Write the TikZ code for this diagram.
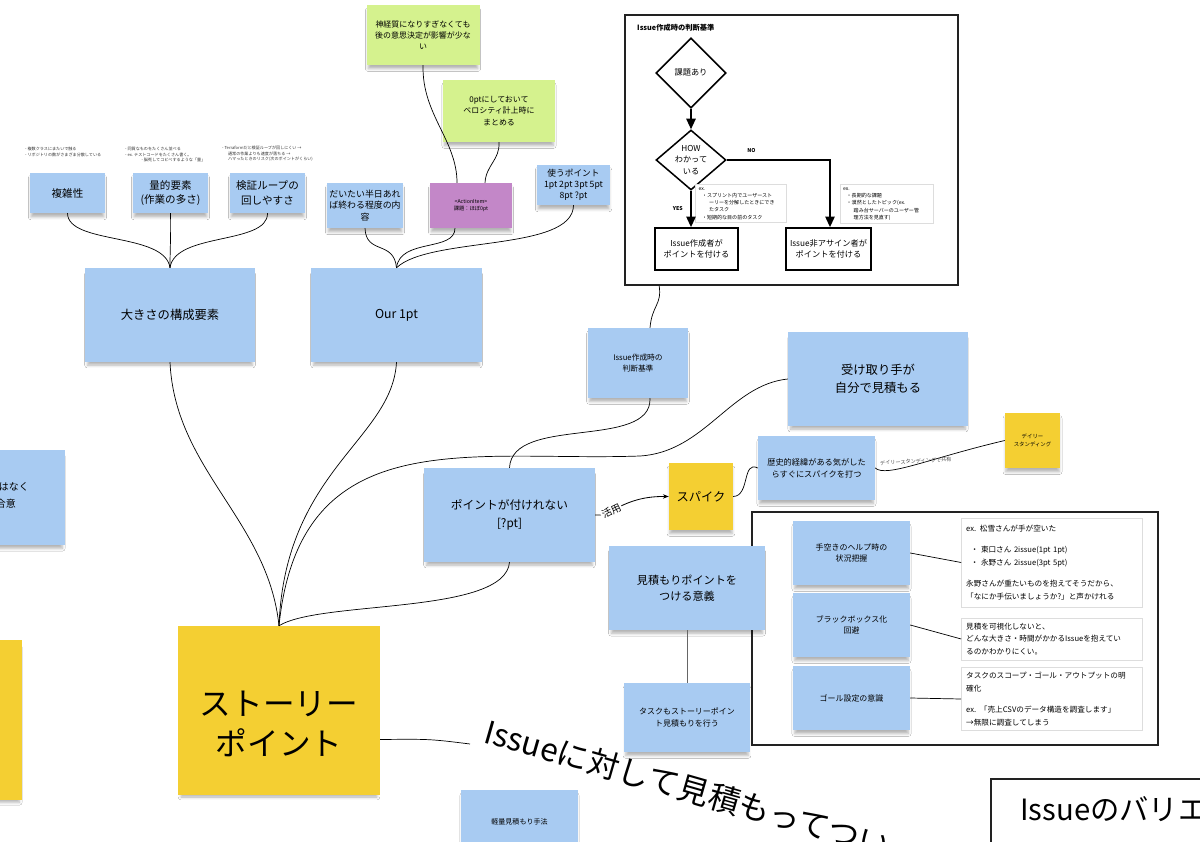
\documentclass[tikz,border=0pt]{standalone}
\usepackage{fontspec}
\setmainfont{Noto Sans CJK JP}
\usetikzlibrary{shapes.geometric,arrows.meta,positioning,calc,shadows.blur}
\definecolor{boardblue}{HTML}{A8CBF2}
\definecolor{boardyellow}{HTML}{F4CF32}
\definecolor{boardgreen}{HTML}{D5F28E}
\definecolor{boardpurple}{HTML}{C387C8}
\definecolor{boardline}{HTML}{222222}
\definecolor{boardgray}{HTML}{DDDDDD}
\newcommand\fsize[2]{\fontsize{#1}{#2}\selectfont}

\begin{document}
\begin{tikzpicture}[x=0.03cm, y=-0.03cm,
    sticky/.style={rectangle, fill=boardblue, align=center, inner sep=2pt, blur shadow={shadow xshift=0pt, shadow yshift=-4pt, shadow scale=0.97, shadow opacity=30, shadow blur radius=2.5pt}},
    memo/.style={font=\fsize{3.5}{4.6}, align=left, inner sep=0pt, text=black!80, anchor=north west},
    frame/.style={rectangle, draw=boardline, line width=1.4pt},
    decide/.style={diamond, draw=black, line width=1.3pt, aspect=1.15, inner sep=0pt, font=\fsize{7}{9.5}, align=center},
    pointbox/.style={rectangle, draw=black, line width=1.5pt, minimum width=2.49cm, minimum height=1.26cm, font=\fsize{7}{10}, align=center},
    exnote/.style={rectangle, draw=boardgray, fill=white, line width=0.4pt, align=left, font=\fsize{4.3}{6.2}, inner sep=2.5pt},
    memobox/.style={rectangle, draw=boardgray, fill=white, line width=0.5pt, align=left, text width=5.15cm, inner sep=4pt, font=\fsize{6.5}{11}},
    yesno/.style={font=\bfseries\fsize{4.5}{5}},
    tag/.style={font=\fsize{4.4}{5}, text=black!70, inner sep=1pt},
    link/.style={line width=0.6pt, draw=black},
    flow/.style={-{Triangle[length=9pt,width=8pt]}, line width=1.3pt},
    push/.style={-{Stealth[length=5pt]}, line width=0.7pt}
]
    \useasboundingbox (0,0) rectangle (1200,842);
    \clip (0,0) rectangle (1200,842);
    \fill [white] (0,0) rectangle (1200,842);

    % cut-off notes on the left edge
    \node (leftblue) [sticky, minimum width=4.95cm, minimum height=2.85cm, anchor=north east] at (65,450) {};
    \node (leftblueA) [font=\fsize{8.5}{11}, anchor=east] at (33,487) {はなく};
    \node (leftblueB) [font=\fsize{8.5}{11}, anchor=east] at (20,504) {合意};
    \node (leftyellow) [sticky, fill=boardyellow, minimum width=5cm, minimum height=4.8cm, anchor=north east] at (22,640) {};

    % size factors
    \node (cplxmemo) [memo] at (25,147) {- 複数クラスにまたいで触る\\- リポジトリの数がさまざま分散している};
    \node (qtymemo) [memo] at (125,147) {- 同質なものをたくさん並べる\\- ex. テストコードをたくさん書く。\\\hspace*{14pt}- 脳死してコピペするような「量」};
    \node (loopmemo) [memo] at (222,146) {- Terraformだと検証ループが回しにくい →\\\hspace*{5pt}通常の作業よりも速度が落ちる →\\\hspace*{5pt}ハマったときのリスク(次のポイントがくらい)};
    \node (cplx) [sticky, minimum width=2.25cm, minimum height=1.2cm, font=\fsize{9}{12}] at (67.5,193) {複雑性};
    \node (qty) [sticky, minimum width=2.25cm, minimum height=1.2cm, font=\fsize{9}{12}] at (170.5,193) {量的要素\\(作業の多さ)};
    \node (loop) [sticky, minimum width=2.25cm, minimum height=1.2cm, font=\fsize{9}{12}] at (267.5,193) {検証ループの\\回しやすさ};
    \node (size) [sticky, minimum width=5.1cm, minimum height=2.82cm, font=\fsize{10.5}{13}] at (170,315) {大きさの構成要素};

    % our 1pt
    \node (calm) [sticky, fill=boardgreen, minimum width=3.39cm, minimum height=1.8cm, font=\fsize{6.8}{9.5}] at (423,35) {神経質になりすぎなくても\\後の意思決定が影響が少な\\い};
    \node (zero) [sticky, fill=boardgreen, minimum width=3.36cm, minimum height=1.86cm, font=\fsize{6.8}{9.5}] at (499,111) {0ptにしておいて\\ベロシティ計上時に\\まとめる};
    \node (half) [sticky, minimum width=2.22cm, minimum height=1.35cm, font=\fsize{7.6}{10}] at (365,205.5) {だいたい半日あれ\\ば終わる程度の内\\容};
    \node (act) [sticky, fill=boardpurple, minimum width=2.46cm, minimum height=1.35cm, font=\fsize{4.5}{6.5}] at (471,205.5) {<ActionItem>\\課題：ほぼ0pt};
    \node (use) [sticky, minimum width=2.19cm, minimum height=1.2cm, font=\fsize{7.4}{9.5}] at (573.5,185) {使うポイント\\1pt 2pt 3pt 5pt\\8pt ?pt};
    \node (our) [sticky, minimum width=5.13cm, minimum height=2.82cm, font=\fsize{10.5}{13}] at (396.5,315) {Our 1pt};

    % judgement frame
    \node (judge) [frame, minimum width=9.99cm, minimum height=8.1cm] at (791.5,150) {};
    \node (judgetitle) [font=\bfseries\fsize{6.2}{8}, anchor=west, inner sep=0pt] at (637,28) {Issue作成時の判断基準};
    \node (has) [decide, minimum width=2.1cm, minimum height=2.1cm] at (691,73) {課題あり};
    \node (how) [decide, minimum width=2.1cm, minimum height=1.8cm] at (691,160) {HOW\\わかって\\いる};
    \node (exyes) [exnote, text width=2.55cm] at (741,203.5) {ex.\\\hspace*{3pt}・スプリント内でユーザースト\\\hspace*{9pt}ーリーを分解したときにでき\\\hspace*{9pt}たタスク\\\hspace*{3pt}・短期的な目の前のタスク};
    \node (exno) [exnote, text width=2.6cm] at (886.5,204) {ex.\\\hspace*{3pt}・長期的な課題\\\hspace*{3pt}・漠然としたトピック(ex.\\\hspace*{9pt}踏み台サーバーのユーザー管\\\hspace*{9pt}理方法を見直す)};
    \node (byauthor) [pointbox] at (696.5,249) {Issue作成者が\\ポイントを付ける};
    \node (byother) [pointbox] at (828.5,249) {Issue非アサイン者が\\ポイントを付ける};
    \draw [flow] (has) -- (how);
    \draw [flow] (how.south) -- node [yesno, left=3pt] {YES} (how.south |- byauthor.north);
    \draw [flow] (how.east) -| node [yesno, pos=0.12, above=2pt] {NO} ($(byother.north)+(1.5,0)$);

    % middle notes
    \node (judgenote) [sticky, minimum width=3cm, minimum height=2.1cm, font=\fsize{6.6}{9.5}] at (638,363) {Issue作成時の\\判断基準};
    \node (self) [sticky, minimum width=5.4cm, minimum height=2.82cm, font=\fsize{10.5}{15}] at (878,379) {受け取り手が\\自分で見積もる};
    \node (history) [sticky, minimum width=3.51cm, minimum height=1.92cm, font=\fsize{7}{10}] at (816.5,468) {歴史的経緯がある気がした\\らすぐにスパイクを打つ};
    \node (daily) [sticky, fill=boardyellow, minimum width=1.65cm, minimum height=1.65cm, font=\fsize{4.6}{6.5}] at (1032.5,440.5) {デイリー\\スタンディング};
    \node (spike) [sticky, fill=boardyellow, minimum width=1.92cm, minimum height=2.01cm, font=\fsize{10.5}{13}] at (701,496.5) {スパイク};
    \node (nopt) [sticky, minimum width=5.13cm, minimum height=2.82cm, font=\fsize{10}{15}] at (509.5,515) {ポイントが付けれない\\{[?pt]}};

    % meaning frame
    \node (why) [frame, minimum width=12.18cm, minimum height=6.99cm] at (955,628.5) {};
    \node (meaning) [sticky, minimum width=4.68cm, minimum height=2.52cm, font=\fsize{9.5}{14}] at (687,588) {見積もりポイントを\\つける意義};
    \node (help) [sticky, minimum width=3.51cm, minimum height=1.92cm, font=\fsize{6.8}{9.5}] at (851.5,553) {手空きのヘルプ時の\\状況把握};
    \node (blackbox) [sticky, minimum width=3.51cm, minimum height=1.92cm, font=\fsize{6.8}{9.5}] at (851.5,625) {ブラックボックス化\\回避};
    \node (goal) [sticky, minimum width=3.51cm, minimum height=1.92cm, font=\fsize{6.8}{9.5}] at (851.5,698) {ゴール設定の意識};
    \node (helpnote) [memobox, minimum height=2.67cm] at (1052,562.5) {ex. 松雪さんが手が空いた\\[7pt]\hspace*{4pt}・ 東口さん 2issue(1pt 1pt)\\\hspace*{4pt}・ 永野さん 2issue(3pt 5pt)\\[7pt]永野さんが重たいものを抱えてそうだから、\\「なにか手伝いましょうか?」と声かけれる};
    \node (bbnote) [memobox, minimum height=1.26cm] at (1052,639) {見積を可視化しないと、\\どんな大きさ・時間がかかるIssueを抱えてい\\るのかわかりにくい。};
    \node (goalnote) [memobox, minimum height=1.86cm] at (1052,699) {タスクのスコープ・ゴール・アウトプットの明\\確化\\[7pt]ex. 「売上CSVのデータ構造を調査します」\\→無限に調査してしまう};
    \node (tasksp) [sticky, minimum width=3.78cm, minimum height=2.07cm, font=\fsize{6.8}{10}] at (687,717.5) {タスクもストーリーポイン\\ト見積もりを行う};

    % story point
    \node (sp) [sticky, fill=boardyellow, minimum width=6.06cm, minimum height=5.07cm] at (279,710.5) {};
    \node (sptext) [font=\fsize{27}{34}, align=center] at (279,724) {ストーリー\\ポイント};
    \node (light) [sticky, minimum width=3.51cm, minimum height=1.92cm, font=\fsize{6}{8}] at (519.5,822) {軽量見積もり手法};
    \node (bigsay) [font=\fsize{27}{30}, rotate=-16, anchor=base west, inner sep=0pt] at (482,742) {Issueに対して見積もってつい};
    \node (variation) [frame, minimum width=7cm, minimum height=3cm, anchor=north west] at (990,778) {};
    \node (variationtitle) [font=\fsize{25}{28}, anchor=west, inner sep=0pt] at (1020,809) {Issueのバリエ};

    % connectors
    \draw [link] (cplx.south) .. controls (68,245) and (165,232) .. (size.north);
    \draw [link] (qty.south) .. controls (171,235) and (170,250) .. (size.north);
    \draw [link] (loop.south) .. controls (268,245) and (175,232) .. (size.north);
    \draw [link] (half.south) .. controls (366,255) and (394,240) .. (our.north);
    \draw [link] ($(act.south)+(-16,0)$) .. controls (455,252) and (400,238) .. (our.north);
    \draw [link] (use.south) .. controls (573,252) and (430,236) .. (our.north);
    \draw [link] (calm.south) .. controls (422,115) and (457,140) .. ($(act.north)+(-14,0)$);
    \draw [link] (zero.south) .. controls (500,160) and (486,165) .. ($(act.north)+(14,0)$);
    \draw [link] ($(judge.south west)+(35,0)$) .. controls (662,305) and (652,305) .. ($(judgenote.north)+(12,0)$);
    \draw [link] (size.south) .. controls (175,470) and (268,520) .. (sp.north);
    \draw [link] (our.south) .. controls (392,440) and (285,470) .. (sp.north);
    \draw [link] (self.west) .. controls (730,385) and (705,452) .. (640,456) .. controls (470,462) and (300,420) .. (sp.north);
    \draw [link] ($(judgenote.south)+(12,0)$) .. controls (652,450) and (512,415) .. (nopt.north);
    \draw [link] (nopt.south) .. controls (505,615) and (320,600) .. (sp.north);
    \draw [link] (spike.east) .. controls (750,496) and (742,460) .. (history.west);
    \draw [link] (history.east) .. controls (886,478) and (930,458) .. node [tag, pos=0.5, above=-0.5pt, rotate=3] {デイリースタンディングで共有} (daily.west);
    \draw [push] (nopt.east) .. controls (610,518) and (622,496) .. node [sloped, pos=0.35, fill=white, inner sep=1pt, font=\fsize{8.5}{10}] {活用} (spike.west);
    \draw [link, draw=black!60] (meaning.south) -- (tasksp.north);
    \draw [link] (help.east) -- (helpnote.west);
    \draw [link] (blackbox.east) -- (bbnote.west);
    \draw [link] (goal.east) -- (goalnote.west);
    \draw [link] ($(sp.east)+(0,29)$) .. controls (430,739) .. ($(bigsay.base west)+(-12,2)$);
\end{tikzpicture}
\end{document}
